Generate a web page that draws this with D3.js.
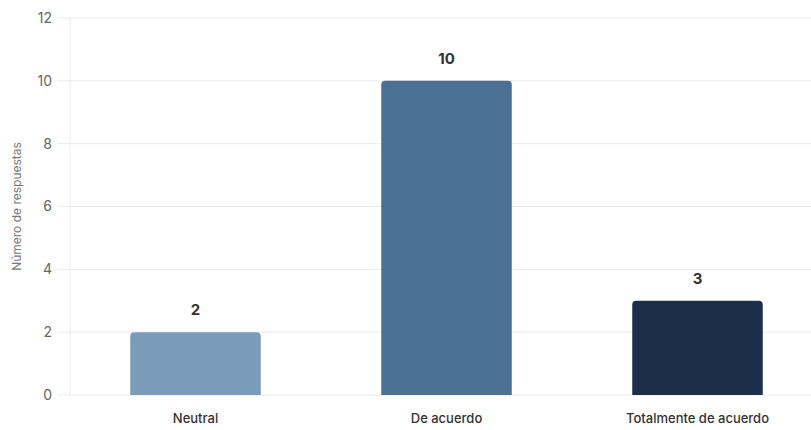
<!DOCTYPE html>
<html><head><meta charset="utf-8">
<script src="https://cdn.jsdelivr.net/npm/d3@7"></script>
<style>body{margin:0;background:#fff;font-family:Inter,"Noto Sans",sans-serif;}</style>
</head><body><svg id="c" width="811" height="430"></svg>
<script>
const categories = ["Neutral", "De acuerdo", "Totalmente de acuerdo"];
const values = [2, 10, 3];
const colors = ["#7a9cbb", "#4a7094", "#1c2e4a"];
const yTicks = [0, 2, 4, 6, 8, 10, 12];
const yTitle = "Número de respuestas";

const svg = d3.select("#c");
const x = d3.scaleBand().domain(categories).range([70, 823]).paddingInner(0.48).paddingOuter(0.24);
const y = d3.scaleLinear().domain([0, 12]).range([395, 18]);

// grid
svg.append("g").selectAll("line").data(yTicks).join("line")
  .attr("x1", 58).attr("x2", 811).attr("y1", d => y(d)).attr("y2", d => y(d))
  .attr("stroke", "#ebebeb").attr("stroke-width", 1);
svg.append("line").attr("x1", 70).attr("x2", 70).attr("y1", y(12)).attr("y2", y(0))
  .attr("stroke", "#ebebeb");

// y tick labels
svg.append("g").selectAll("text").data(yTicks).join("text")
  .attr("x", 52).attr("y", d => y(d)).attr("dy", "0.35em").attr("text-anchor", "end")
  .attr("font-size", 14).attr("fill", "#666").text(d => d);

svg.append("text").attr("transform", `translate(21,${(y(0)+y(12))/2}) rotate(-90)`)
  .attr("text-anchor", "middle").attr("font-size", 12).attr("fill", "#777").text(yTitle);

// bars with rounded top
const r = 4;
svg.append("g").selectAll("path").data(categories).join("path")
  .attr("fill", (d, i) => colors[i])
  .attr("d", (d, i) => {
    const x0 = x(d), w = x.bandwidth(), y0 = y(values[i]), y1 = y(0);
    return `M${x0},${y1}V${y0 + r}Q${x0},${y0} ${x0 + r},${y0}H${x0 + w - r}Q${x0 + w},${y0} ${x0 + w},${y0 + r}V${y1}Z`;
  });

// value labels
svg.append("g").selectAll("text").data(categories).join("text")
  .attr("x", d => x(d) + x.bandwidth() / 2).attr("y", (d, i) => y(values[i]) - 17)
  .attr("text-anchor", "middle").attr("font-size", 15).attr("font-weight", 700).attr("fill", "#333")
  .text((d, i) => values[i]);

// category labels
svg.append("g").selectAll("text").data(categories).join("text")
  .attr("x", d => x(d) + x.bandwidth() / 2).attr("y", 423)
  .attr("text-anchor", "middle").attr("font-size", 13).attr("font-weight", 500).attr("fill", "#333").text(d => d);
</script></body></html>
